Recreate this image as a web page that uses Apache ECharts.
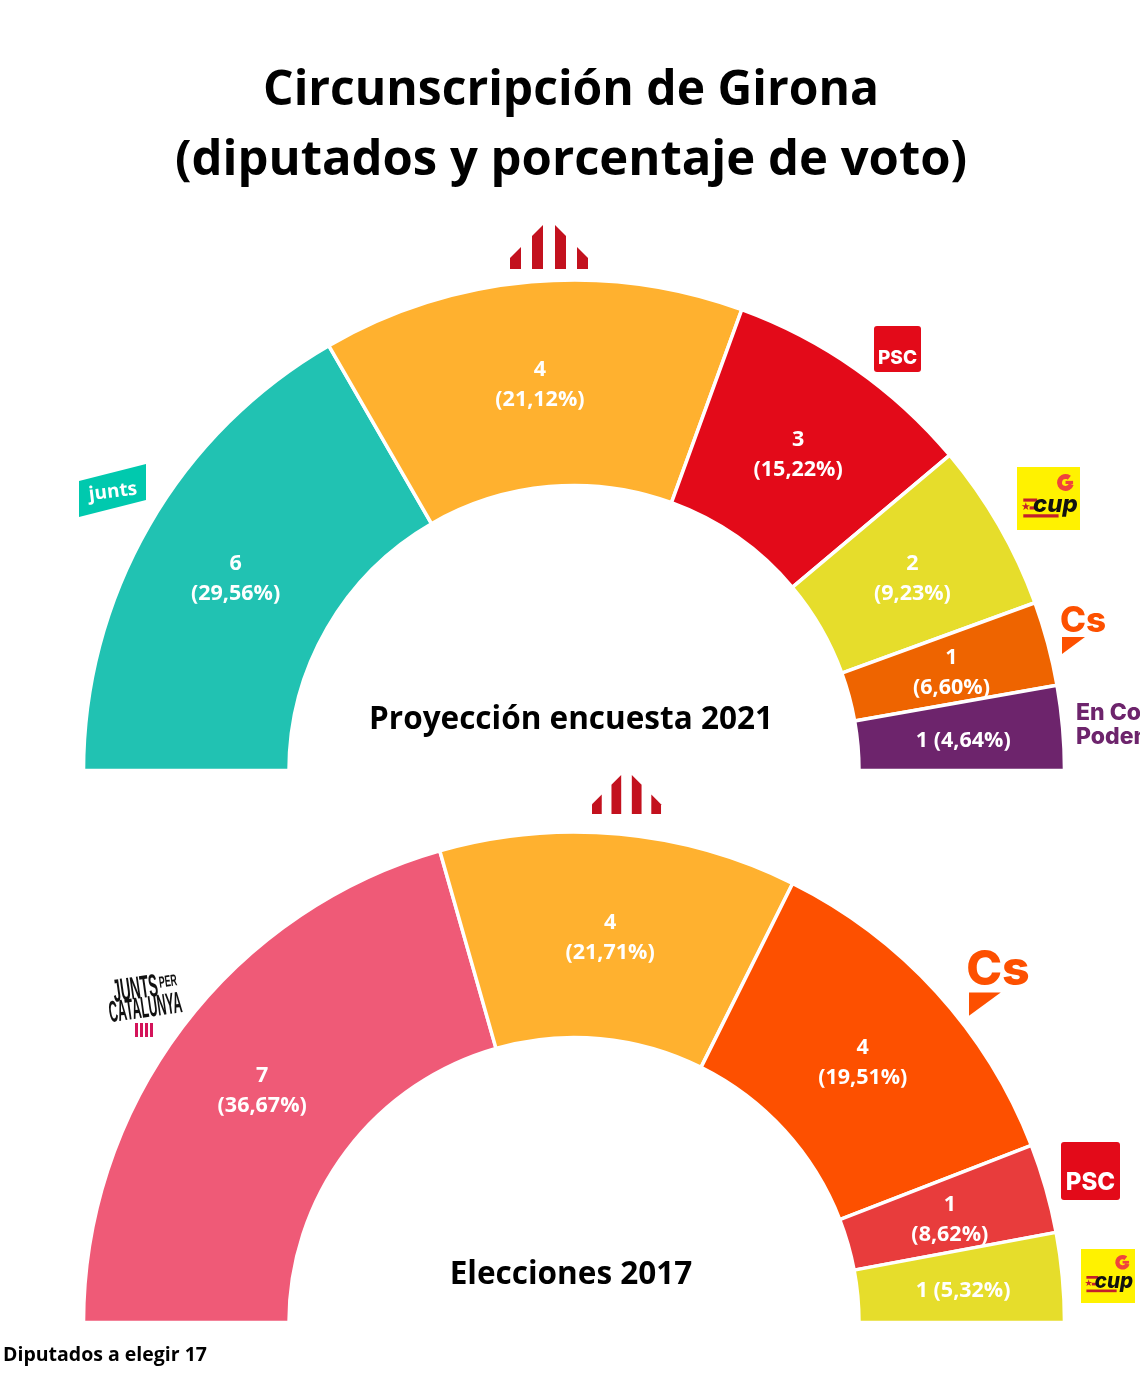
<!DOCTYPE html>
<html lang="es">
<head>
    <meta charset="UTF-8">
    <title>Circunscripción de Girona</title>
    <style>
        html, body { margin: 0; padding: 0; background: #fff; }
        #chart { width: 1140px; height: 1386px; }
    </style>
</head>
<body>
    <div id="chart"></div>
    <script src="https://cdn.jsdelivr.net/npm/echarts@6/dist/echarts.min.js"></script>
    <script>
        // encuesta 2021
        var partidos2021 = ['Junts', 'ERC', 'PSC', 'CUP', 'Cs', 'En Comú Podem'];
        var arco2021 = [6, 5, 3, 2, 1, 1];        // the drawn arc sizes, ERC spans 5 units even though its label says 4
        var diputados2021 = [6, 4, 3, 2, 1, 1];
        var voto2021 = ['29,56', '21,12', '15,22', '9,23', '6,60', '4,64'];
        var colores2021 = ['#21C2B2', '#FFB12F', '#E30A19', '#E6DD2B', '#EE6400', '#6D246C'];

        // elecciones 2017
        var partidos2017 = ['JxCat', 'ERC', 'Cs', 'PSC', 'CUP'];
        var arco2017 = [7, 4, 4, 1, 1];
        var diputados2017 = [7, 4, 4, 1, 1];
        var voto2017 = ['36,67', '21,71', '19,51', '8,62', '5,32'];
        var colores2017 = ['#EF5A77', '#FFB12F', '#FD5000', '#E83C3C', '#E6DD2B'];

        var FONT = '"Open Sans", sans-serif';
        var LOGO_FONT = 'Inter, sans-serif';

        function buildData(nombres, arcos, diputados, voto, colores) {
            var last = nombres.length - 1;
            return nombres.map(function (n, i) {
                return {
                    name: n,
                    value: arcos[i],
                    itemStyle: { color: colores[i] },
                    // smallest slice has its label on one line
                    label: { formatter: diputados[i] + (i === last ? ' ' : '\n') + '(' + voto[i] + '%)' }
                };
            });
        }

        function hemiciclo(cy, data) {
            return {
                type: 'pie',
                center: [574, cy],
                radius: [285, 490.5],
                startAngle: 180,
                endAngle: 0,
                silent: true,
                animation: false,
                itemStyle: { borderColor: '#fff', borderWidth: 3.5 },
                label: {
                    show: true,
                    position: 'inside',
                    color: '#fff',
                    fontFamily: FONT,
                    fontWeight: 700,
                    fontSize: 21.5,
                    lineHeight: 30,
                    offset: [0, 4]
                },
                labelLine: { show: false },
                data: data
            };
        }

        function texto(x, y, txt, font, fill, extra) {
            var el = {
                type: 'text',
                x: x,
                y: y,
                silent: true,
                style: { text: txt, font: font, fill: fill, align: 'center', verticalAlign: 'middle' }
            };
            for (var k in extra) el[k] = extra[k];
            return el;
        }

        function poly(puntos, fill) {
            return { type: 'polygon', silent: true, shape: { points: puntos }, style: { fill: fill } };
        }

        function caja(x, y, w, h, fill, r) {
            return { type: 'rect', silent: true, shape: { x: x, y: y, width: w, height: h, r: r || 0 }, style: { fill: fill } };
        }

        // ERC four bars
        function logoErc(x, y, k) {
            var c = '#C3111E', b = y + 44 * k, out = [];
            function px(v) { return x + v * k; }
            function py(v) { return y + v * k; }
            out.push(poly([[px(0), b], [px(0), py(33)], [px(11), py(22)], [px(11), b]], c));
            out.push(poly([[px(22), b], [px(22), py(11)], [px(33), py(0)], [px(33), b]], c));
            out.push(poly([[px(45), b], [px(45), py(0)], [px(56), py(11)], [px(56), b]], c));
            out.push(poly([[px(67), b], [px(67), py(22)], [px(78), py(33)], [px(78), b]], c));
            return out;
        }

        function logoPsc(x, y, w, h, size) {
            return [
                caja(x, y, w, h, '#E30A19', 3),
                texto(x + w / 2, y + h * 0.71, 'PSC', '800 ' + size + 'px ' + LOGO_FONT, '#fff')
            ];
        }

        function logoCs(x, y, k) {
            return [
                texto(x + 21 * k, y + 14 * k, 'Cs', '800 ' + (35 * k) + 'px ' + LOGO_FONT, '#FD5000'),
                poly([[x, y + 30 * k], [x + 23 * k, y + 30 * k], [x, y + 47 * k]], '#FD5000')
            ];
        }

        function logoCup(x, y, s) {
            var rojo = '#C3202B';
            return [
                caja(x, y, s, s, '#FFF200'),
                { type: 'arc', silent: true, shape: { cx: x + 0.77 * s, cy: y + 0.245 * s, r: 0.095 * s, startAngle: 0.3, endAngle: 5.4 },
                  style: { stroke: '#F0443C', fill: null, lineWidth: 0.08 * s } },
                caja(x + 0.77 * s, y + 0.22 * s, 0.12 * s, 0.05 * s, '#F0443C'),
                caja(x + 0.1 * s, y + 0.5 * s, 0.22 * s, 0.05 * s, rojo),
                caja(x + 0.2 * s, y + 0.625 * s, 0.12 * s, 0.05 * s, rojo),
                caja(x + 0.1 * s, y + 0.75 * s, 0.56 * s, 0.05 * s, rojo),
                texto(x + 0.14 * s, y + 0.645 * s, '★', (0.17 * s) + 'px "DejaVu Sans"', rojo),
                texto(x + 0.61 * s, y + 0.6 * s, 'cup', 'italic 800 ' + (0.38 * s) + 'px ' + LOGO_FONT, '#111')
            ];
        }

        function logoJunts() {
            return [
                poly([[79, 481], [146, 464], [146, 500], [79, 517]], '#00C9AE'),
                texto(113, 492, 'junts', '700 19px ' + FONT, '#fff', { rotation: 0.12 })
            ];
        }

        function logoJxCat() {
            var rot = 0.14, out = [];
            out.push(texto(135.5, 990, 'JUNTS', '700 32px "Liberation Sans"', '#111', { rotation: rot, scaleX: 0.43 }));
            out.push(texto(168, 982, 'PER', '700 16px "Liberation Sans"', '#111', { rotation: rot, scaleX: 0.55 }));
            out.push(texto(145.5, 1009, 'CATALUNYA', '700 30px "Liberation Sans"', '#111', { rotation: rot, scaleX: 0.41 }));
            for (var i = 0; i < 4; i++) {
                out.push(caja(135 + i * 5, 1023, 3, 14, '#D4145A'));
            }
            return out;
        }

        var graficos = [].concat(
            texto(571, 91, 'Circunscripción de Girona', '700 48px ' + FONT, '#000'),
            texto(571, 161, '(diputados y porcentaje de voto)', '700 49px ' + FONT, '#000'),
            texto(571, 720, 'Proyección encuesta 2021', '700 31.5px ' + FONT, '#000'),
            texto(571, 1275, 'Elecciones 2017', '700 31.5px ' + FONT, '#000'),
            texto(105, 1355, 'Diputados a elegir 17', '700 19.5px ' + FONT, '#000'),
            logoErc(510, 225, 1),
            logoErc(592, 775, 0.885),
            logoJunts(),
            logoJxCat(),
            logoPsc(874, 326, 47, 46, 19),
            logoPsc(1061, 1142, 59, 58, 24),
            logoCup(1017, 467, 63),
            logoCup(1081, 1249, 54),
            logoCs(1062, 607, 1),
            logoCs(969, 951, 1.38),
            [
                { type: 'text', x: 1076, y: 702, silent: true, style: { text: 'En Comú', font: '800 23px ' + LOGO_FONT, fill: '#6D246C', align: 'left', verticalAlign: 'top' } },
                { type: 'text', x: 1076, y: 726, silent: true, style: { text: 'Podem', font: '800 23px ' + LOGO_FONT, fill: '#6D246C', align: 'left', verticalAlign: 'top' } }
            ]
        );

        var myChart = echarts.init(document.getElementById('chart'));
        myChart.setOption({
            animation: false,
            backgroundColor: '#fff',
            graphic: { elements: graficos },
            series: [
                hemiciclo(770.5, buildData(partidos2021, arco2021, diputados2021, voto2021, colores2021)),
                hemiciclo(1322.5, buildData(partidos2017, arco2017, diputados2017, voto2017, colores2017))
            ]
        });
    </script>
</body>
</html>
